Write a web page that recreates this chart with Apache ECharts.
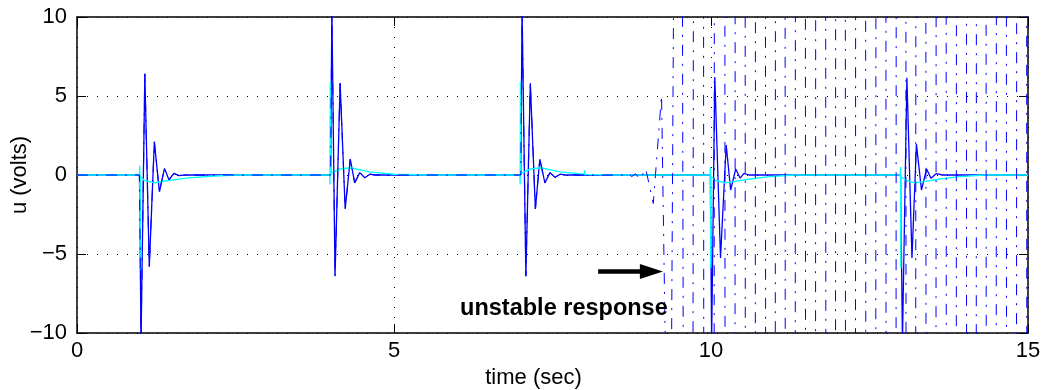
<!DOCTYPE html>
<html>
<head>
<meta charset="utf-8">
<script src="https://cdn.jsdelivr.net/npm/echarts@6/dist/echarts.min.js"></script>
<style>
html,body{margin:0;padding:0;background:#fff;}
#chart{width:1042px;height:390px;}
</style>
</head>
<body>
<div id="chart"></div>
<script>
// ---- data ----
const xTicks = [0, 5, 10, 15];
const yTicks = [-10, -5, 0, 5, 10];

// solid blue: stable response
const solidPts = [
  [0,0],[0.985,0],[1.01,-10.5],[1.07,6.4],[1.14,-5.8],[1.22,2.1],[1.30,-1.06],[1.38,0.42],[1.45,-0.3],[1.53,0.1],[1.61,-0.04],[1.70,0],
  [4.0,0],[4.02,10.5],[4.07,-6.4],[4.15,5.8],[4.23,-2.15],[4.31,1.0],[4.38,-0.5],[4.46,0.15],[4.54,-0.17],[4.62,0.05],[4.70,0],
  [7.0,0],[7.02,10.5],[7.08,-6.4],[7.15,5.8],[7.23,-2.15],[7.30,1.0],[7.38,-0.5],[7.46,0.15],[7.54,-0.15],[7.62,0.05],[7.70,0],
  [9.99,0],[10.01,-10.5],[10.06,6.2],[10.15,-5.25],[10.24,1.9],[10.31,-0.95],[10.39,0.38],[10.46,-0.2],[10.52,0.1],[10.60,0],
  [12.99,0],[13.02,-10.5],[13.09,6.15],[13.17,-5.25],[13.24,1.95],[13.32,-0.95],[13.40,0.38],[13.47,-0.2],[13.55,0.08],[13.65,0],
  [15,0]
];

// cyan: second signal
const cyanPts = [
  [0,0],[0.985,0],[0.99,0.6],[0.995,-6.0],[1.0,-0.1],[1.07,-0.36],[1.23,-0.49],[1.41,-0.36],[1.73,-0.2],[2.1,-0.08],[2.5,0],
  [3.985,0],[3.99,-0.6],[3.995,5.9],[4.0,0.1],[4.15,0.38],[4.31,0.46],[4.62,0.2],[5.0,0.05],[5.5,0],
  [6.985,0],[6.99,-0.6],[6.995,5.9],[7.0,0.1],[7.15,0.38],[7.31,0.46],[7.62,0.2],[8.0,0.05],[8.005,0.3],[8.01,0.04],[8.5,0],
  [9.985,0],[9.99,0.5],[9.995,-5.9],[10.0,-0.1],[10.07,-0.35],[10.22,-0.5],[10.35,-0.42],[10.62,-0.25],[10.88,-0.12],[11.3,0],
  [12.985,0],[12.99,0.5],[12.995,-5.9],[13.0,-0.1],[13.07,-0.35],[13.22,-0.5],[13.35,-0.42],[13.62,-0.25],[13.88,-0.12],[14.3,0],
  [15,0]
];

// dash-dot blue: unstable response (follows the stable one until ~8.6 s)
const unstableSplit = 8.6;
const unstableTailT = [8.68, 8.75, 8.81, 8.88, 8.97, 9.09, 9.22,
  9.35, 9.51, 9.67, 9.83, 9.98, 10.14, 10.30, 10.46, 10.62, 10.78, 10.94, 11.09, 11.25, 11.41,
  11.57, 11.73, 11.89, 12.04, 12.20, 12.36, 12.52, 12.68, 12.84, 13.00, 13.15, 13.31, 13.47,
  13.63, 13.79, 13.95, 14.11, 14.26, 14.42, 14.58, 14.74, 14.90, 15.06];
const unstableTailV = [0.12, -0.1, 0.08, -0.27, 0.4, -1.8, 5.05,
  -30, 80, -200, 450, -800, 1000, -1000, 1000, -1000, 1000, -1000, 1000, -1000, 1000,
  -1000, 1000, -1000, 1000, -1000, 1000, -1000, 1000, -1000, 1000, -1000, 1000, -1000,
  1000, -1000, 1000, -1000, 1000, -1000, 1000, -1000, 1000, -1000];

const annotationText = 'unstable response';
const arrowFrom = [8.22, -6.1];
const arrowTo = [9.06, -6.1];
const textAt = [7.68, -8.45];

// ---- build ----
const unstablePts = solidPts.filter(p => p[0] < unstableSplit)
  .concat([[unstableSplit, 0]])
  .concat(unstableTailT.map((t, i) => [t, unstableTailV[i]]));

const FONT = '"Liberation Sans", Arial, Helvetica, sans-serif';
const minus = v => String(v).replace('-', '\u2212');

const chart = echarts.init(document.getElementById('chart'), null, {renderer: 'canvas'});

const gridLine = {show: true, lineStyle: {color: '#000', width: 1, type: [1, 9]}};
const axisLine = {show: true, onZero: false, lineStyle: {color: '#000', width: 1.5}};
const tick = {show: true, inside: true, length: 9, lineStyle: {color: '#000', width: 1}};

chart.setOption({
  animation: false,
  backgroundColor: '#fff',
  grid: {left: 77, right: 14, top: 17, bottom: 57, containLabel: false, outerBoundsMode: 'none'},
  xAxis: [
    {type: 'value', min: xTicks[0], max: xTicks[xTicks.length - 1], interval: 5, position: 'bottom',
     axisLine: axisLine, axisTick: tick, splitLine: gridLine,
     axisLabel: {color: '#000', fontSize: 22, fontFamily: FONT, margin: 7},
     name: 'time (sec)', nameLocation: 'middle', nameGap: 34, nameMoveOverlap: false,
     nameTextStyle: {color: '#000', fontSize: 22, fontFamily: FONT, padding: [0, 38, 0, 0]}},
    {type: 'value', min: xTicks[0], max: xTicks[xTicks.length - 1], interval: 5, position: 'top',
     axisLine: axisLine, axisTick: tick, splitLine: {show: false}, axisLabel: {show: false}}
  ],
  yAxis: [
    {type: 'value', min: yTicks[0], max: yTicks[yTicks.length - 1], interval: 5, position: 'left',
     axisLine: axisLine, axisTick: tick, splitLine: gridLine,
     axisLabel: {color: '#000', fontSize: 22, fontFamily: FONT, margin: 10, formatter: minus},
     name: 'u (volts)', nameLocation: 'middle', nameGap: 46, nameRotate: 90, nameMoveOverlap: false,
     nameTextStyle: {color: '#000', fontSize: 22, fontFamily: FONT}},
    {type: 'value', min: yTicks[0], max: yTicks[yTicks.length - 1], interval: 5, position: 'right',
     axisLine: axisLine, axisTick: tick, splitLine: {show: false}, axisLabel: {show: false}}
  ],
  series: [
    {type: 'line', name: 'stable', data: solidPts, showSymbol: false, symbol: 'none', clip: true,
     lineStyle: {color: '#0000ff', width: 1.3}, silent: true},
    {type: 'line', name: 'cyan', data: cyanPts, showSymbol: false, symbol: 'none', clip: true,
     lineStyle: {color: '#00ffff', width: 1.4}, silent: true,
     markLine: {silent: true, symbol: ['none', 'triangle'], symbolSize: [15, 23],
       label: {show: false}, lineStyle: {color: '#000', width: 4.5, type: 'solid'},
       itemStyle: {color: '#000'}, emphasis: {disabled: true},
       data: [[{coord: arrowFrom}, {coord: arrowTo}]]},
     markPoint: {silent: true, symbol: 'circle', symbolSize: 1, itemStyle: {color: 'rgba(0,0,0,0)'},
       label: {show: true, position: 'inside', formatter: annotationText, color: '#000',
         fontSize: 23.5, fontWeight: 'bold', fontFamily: FONT},
       data: [{coord: textAt}]}},
    {type: 'line', name: 'unstable', data: unstablePts, showSymbol: false, symbol: 'none', clip: true,
     lineStyle: {color: '#0000ff', width: 1, type: [11, 8, 2, 8]}, silent: true}
  ]
});
</script>
</body>
</html>
